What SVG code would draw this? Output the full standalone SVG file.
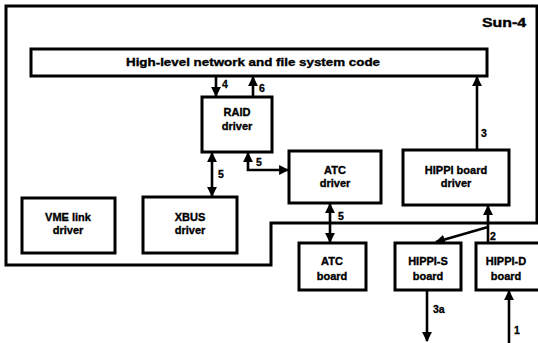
<svg xmlns="http://www.w3.org/2000/svg" width="538" height="343" viewBox="0 0 538 343">
<defs>
<marker id="ah" viewBox="0 0 10 10" refX="9" refY="5" markerWidth="3.8" markerHeight="3.8" orient="auto-start-reverse" markerUnits="strokeWidth">
<path d="M0,0 L10,5 L0,10 Z" fill="#000"/>
</marker>
<style>
.box{fill:#fff;stroke:#000;stroke-width:3}
.t{font-family:"Liberation Sans",Arial,sans-serif;font-weight:bold;font-size:11px;fill:#000;stroke:#000;stroke-width:0.35;text-anchor:middle}
.lbl{font-family:"Liberation Sans",Arial,sans-serif;font-weight:bold;font-size:10.5px;fill:#000;stroke:#000;stroke-width:0.3}
.c{fill:none;stroke:#000;stroke-width:2.6}
</style>
</defs>
<rect width="538" height="343" fill="#fff"/>
<g id="sun4">
<path d="M6,6 H537 V223 H271 V265 H6 Z" fill="none" stroke="#000" stroke-width="3"/>
<text x="526" y="27" style="font-family:'Liberation Sans',Arial,sans-serif;font-weight:bold;font-size:12px;text-anchor:end;stroke:#000;stroke-width:0.4" textLength="44" lengthAdjust="spacingAndGlyphs">Sun-4</text>
</g>
<g id="highlevel">
<rect class="box" x="31" y="49" width="456" height="27"/>
<text class="t" x="253" y="66" textLength="254" lengthAdjust="spacingAndGlyphs">High-level network and file system code</text>
</g>
<g id="raid">
<rect class="box" x="202" y="97" width="70" height="55"/>
<text class="t" x="237" y="116">RAID</text>
<text class="t" x="237" y="130">driver</text>
</g>
<g id="atcdriver">
<rect class="box" x="289" y="151" width="92" height="52"/>
<text class="t" x="335" y="174">ATC</text>
<text class="t" x="335" y="187">driver</text>
</g>
<g id="hippidriver">
<rect class="box" x="403" y="150" width="106" height="55"/>
<text class="t" x="456" y="174">HIPPI board</text>
<text class="t" x="456" y="187">driver</text>
</g>
<g id="vme">
<rect class="box" x="22" y="198" width="93" height="55"/>
<text class="t" x="68" y="221">VME link</text>
<text class="t" x="68" y="234">driver</text>
</g>
<g id="xbus">
<rect class="box" x="143" y="197" width="94" height="56"/>
<text class="t" x="190" y="221">XBUS</text>
<text class="t" x="190" y="234">driver</text>
</g>
<g id="atcboard">
<rect class="box" x="299" y="243" width="67" height="47"/>
<text class="t" x="332" y="265">ATC</text>
<text class="t" x="332" y="280">board</text>
</g>
<g id="hippis">
<rect class="box" x="395" y="243" width="66" height="47"/>
<text class="t" x="428" y="265">HIPPI-S</text>
<text class="t" x="428" y="280">board</text>
</g>
<g id="hippid">
<rect class="box" x="476" y="243" width="66" height="47"/>
<text class="t" x="506" y="265">HIPPI-D</text>
<text class="t" x="506" y="280">board</text>
</g>
<g id="connectors">
<line class="c" x1="216" y1="77" x2="216" y2="96" marker-end="url(#ah)"/>
<text class="lbl" x="222" y="88">4</text>
<line class="c" x1="253" y1="96" x2="253" y2="77" marker-end="url(#ah)"/>
<text class="lbl" x="259" y="92">6</text>
<line class="c" x1="212" y1="153" x2="212" y2="196" marker-start="url(#ah)" marker-end="url(#ah)"/>
<text class="lbl" x="218" y="178">5</text>
<path class="c" d="M248,153 V170 H288" marker-start="url(#ah)" marker-end="url(#ah)"/>
<text class="lbl" x="256" y="166">5</text>
<line class="c" x1="477" y1="149" x2="477" y2="77" marker-end="url(#ah)"/>
<text class="lbl" x="481" y="137">3</text>
<line class="c" x1="330" y1="204" x2="330" y2="242" marker-start="url(#ah)" marker-end="url(#ah)"/>
<text class="lbl" x="338" y="220">5</text>
<line class="c" x1="488" y1="242" x2="488" y2="206" marker-end="url(#ah)"/>
<line class="c" x1="488" y1="227" x2="436" y2="242" marker-end="url(#ah)"/>
<text class="lbl" x="490" y="240">2</text>
<line class="c" x1="427" y1="291" x2="427" y2="341" marker-end="url(#ah)"/>
<text class="lbl" x="433" y="313">3a</text>
<line class="c" x1="509" y1="343" x2="509" y2="291" marker-end="url(#ah)"/>
<text class="lbl" x="514" y="334">1</text>
</g>
</svg>
